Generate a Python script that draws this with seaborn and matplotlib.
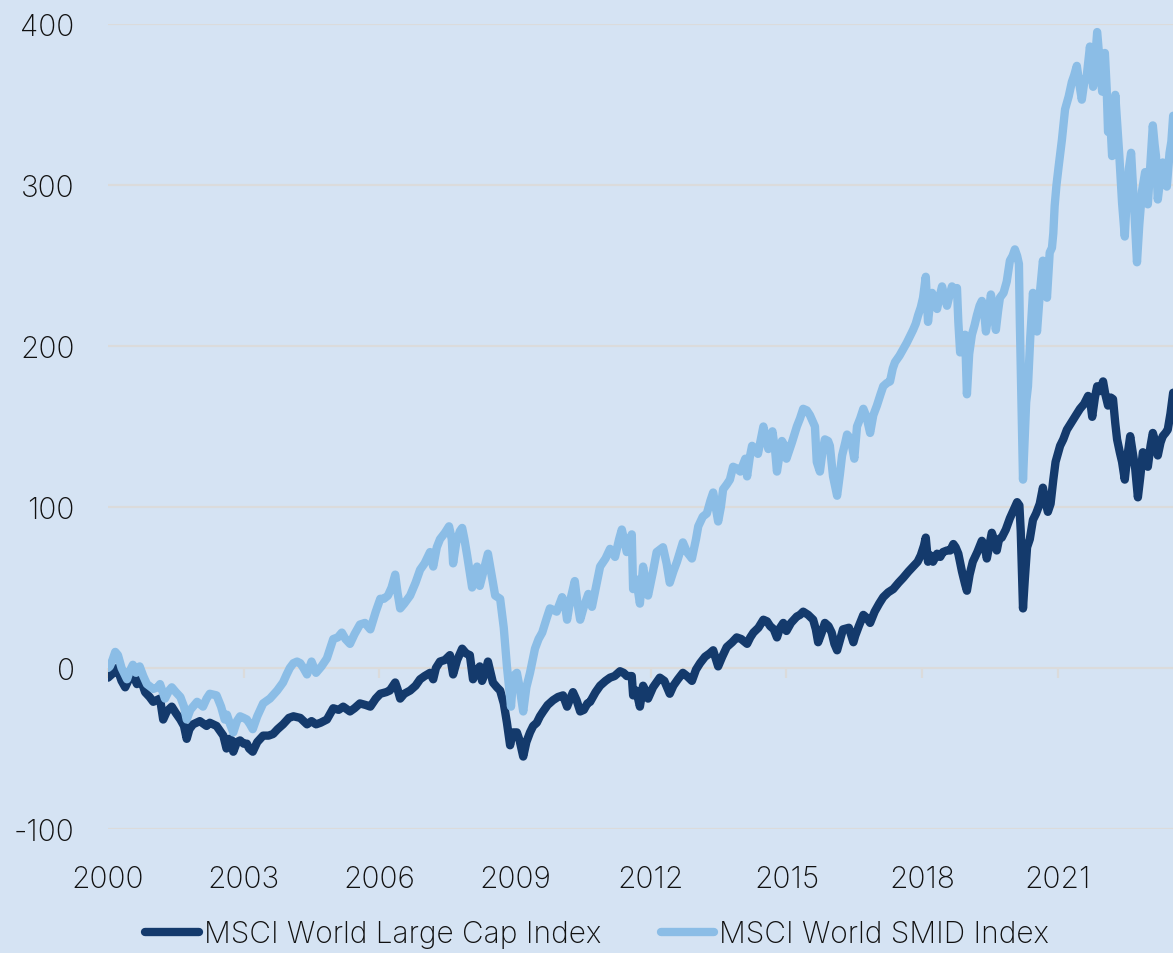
import matplotlib
matplotlib.use("Agg")
import matplotlib.pyplot as plt
import seaborn as sns
import pandas as pd

# ---------------- data ----------------
large_dates = [
    2000.00, 2000.04, 2000.12, 2000.20, 2000.30, 2000.38, 2000.48, 2000.55, 2000.64, 2000.70,
    2000.82, 2000.92, 2001.00, 2001.15, 2001.22, 2001.30, 2001.41, 2001.50, 2001.60, 2001.68,
    2001.74, 2001.80, 2001.88, 2002.03, 2002.18, 2002.25, 2002.40, 2002.50, 2002.55, 2002.62,
    2002.68, 2002.74, 2002.77, 2002.85, 2002.92, 2003.00, 2003.07, 2003.12, 2003.20, 2003.30,
    2003.43, 2003.55, 2003.65, 2003.75, 2003.87, 2004.00, 2004.10, 2004.25, 2004.40, 2004.50,
    2004.60, 2004.70, 2004.84, 2004.98, 2005.10, 2005.20, 2005.35, 2005.45, 2005.57, 2005.70,
    2005.80, 2005.92, 2006.02, 2006.15, 2006.23, 2006.35, 2006.40, 2006.46, 2006.55, 2006.68,
    2006.80, 2006.90, 2007.00, 2007.12, 2007.19, 2007.25, 2007.34, 2007.45, 2007.56, 2007.63,
    2007.72, 2007.83, 2007.92, 2008.00, 2008.07, 2008.15, 2008.22, 2008.27, 2008.35, 2008.40,
    2008.51, 2008.60, 2008.67, 2008.75, 2008.82, 2008.89, 2008.95, 2009.04, 2009.10, 2009.18,
    2009.25, 2009.33, 2009.40, 2009.48, 2009.55, 2009.62, 2009.72, 2009.84, 2009.95, 2010.06,
    2010.15, 2010.22, 2010.28, 2010.36, 2010.44, 2010.52, 2010.60, 2010.66, 2010.78, 2010.88,
    2011.00, 2011.10, 2011.20, 2011.32, 2011.40, 2011.47, 2011.58, 2011.61, 2011.68, 2011.76,
    2011.83, 2011.90, 2011.94, 2012.05, 2012.20, 2012.30, 2012.42, 2012.50, 2012.60, 2012.71,
    2012.80, 2012.91, 2013.00, 2013.09, 2013.20, 2013.30, 2013.38, 2013.49, 2013.58, 2013.68,
    2013.80, 2013.90, 2014.00, 2014.13, 2014.20, 2014.27, 2014.38, 2014.49, 2014.57, 2014.64,
    2014.72, 2014.79, 2014.86, 2014.93, 2015.00, 2015.10, 2015.23, 2015.30, 2015.37, 2015.48,
    2015.59, 2015.65, 2015.70, 2015.78, 2015.85, 2015.93, 2016.00, 2016.06, 2016.12, 2016.18,
    2016.25, 2016.38, 2016.48, 2016.52, 2016.60, 2016.70, 2016.78, 2016.85, 2016.95, 2017.05,
    2017.14, 2017.25, 2017.36, 2017.48, 2017.58, 2017.70, 2017.80, 2017.90, 2017.97, 2018.04,
    2018.08, 2018.13, 2018.18, 2018.24, 2018.33, 2018.40, 2018.46, 2018.55, 2018.62, 2018.69,
    2018.74, 2018.80, 2018.85, 2018.88, 2018.95, 2018.99, 2019.05, 2019.12, 2019.22, 2019.32,
    2019.38, 2019.43, 2019.50, 2019.54, 2019.60, 2019.65, 2019.70, 2019.76, 2019.85, 2019.94,
    2020.02, 2020.10, 2020.15, 2020.18, 2020.21, 2020.23, 2020.27, 2020.32, 2020.38, 2020.45,
    2020.52, 2020.60, 2020.67, 2020.72, 2020.78, 2020.84, 2020.90, 2020.95, 2021.05, 2021.12,
    2021.20, 2021.31, 2021.40, 2021.49, 2021.58, 2021.67, 2021.72, 2021.76, 2021.82, 2021.87,
    2021.94, 2022.00, 2022.05, 2022.11, 2022.17, 2022.22, 2022.27, 2022.31, 2022.37, 2022.42,
    2022.48, 2022.53, 2022.60, 2022.65, 2022.71, 2022.77, 2022.82, 2022.88, 2022.94, 2022.99,
    2023.05, 2023.10, 2023.16, 2023.21, 2023.27, 2023.32, 2023.38, 2023.43, 2023.49, 2023.55,
]
large_values = [
    -6, -5, -3, 0, -8, -12, -6, -4, -10, -5,
    -15, -18, -21, -19, -32, -27, -24, -28, -32, -36,
    -44, -38, -35, -33, -36, -34, -36, -40, -42, -50,
    -44, -45, -52, -46, -45, -47, -47, -50, -52, -46,
    -42, -42, -41, -38, -35, -31, -30, -31, -35, -33,
    -35, -34, -32, -25, -26, -24, -27, -25, -22, -23,
    -24, -19, -16, -15, -14, -9, -13, -19, -16, -14,
    -11, -7, -5, -3, -7, 0, 4, 5, 8, -4,
    5, 12, 9, 8, -7, -2, 1, -8, -2, 4,
    -9, -12, -14, -22, -34, -48, -40, -40, -45, -55,
    -46, -40, -36, -34, -30, -27, -23, -20, -18, -17,
    -24, -19, -15, -20, -27, -26, -22, -21, -15, -11,
    -8, -6, -5, -2, -3, -5, -5, -17, -14, -24,
    -11, -15, -19, -12, -6, -8, -16, -11, -7, -3,
    -5, -8, -1, 3, 7, 9, 11, 1, 7, 13,
    16, 19, 18, 15, 19, 22, 25, 30, 29, 26,
    24, 19, 25, 28, 23, 28, 32, 33, 35, 33,
    30, 24, 16, 22, 28, 26, 22, 15, 11, 17,
    24, 25, 16, 20, 26, 33, 31, 28, 35, 40,
    44, 47, 49, 53, 56, 60, 63, 66, 70, 76,
    81, 66, 70, 66, 71, 69, 72, 73, 73, 77,
    75, 71, 64, 60, 52, 48, 58, 66, 72, 79,
    76, 68, 78, 84, 79, 73, 80, 81, 86, 93,
    98, 103, 101, 85, 55, 37, 55, 75, 80, 92,
    96, 102, 112, 104, 97, 102, 117, 128, 138, 142,
    148, 153, 157, 161, 164, 169, 165, 156, 168, 175,
    172, 178, 170, 163, 168, 167, 152, 142, 134, 128,
    117, 130, 144, 135, 124, 106, 118, 134, 131, 125,
    138, 146, 140, 132, 140, 144, 146, 148, 158, 171,
]

smid_dates = [
    2000.00, 2000.04, 2000.10, 2000.16, 2000.22, 2000.30, 2000.42, 2000.48, 2000.55, 2000.62,
    2000.70, 2000.78, 2000.86, 2001.00, 2001.10, 2001.15, 2001.26, 2001.35, 2001.41, 2001.50,
    2001.60, 2001.68, 2001.74, 2001.82, 2001.97, 2002.10, 2002.18, 2002.25, 2002.40, 2002.50,
    2002.58, 2002.63, 2002.70, 2002.77, 2002.85, 2002.92, 2003.00, 2003.07, 2003.14, 2003.20,
    2003.30, 2003.43, 2003.58, 2003.74, 2003.87, 2003.95, 2004.02, 2004.10, 2004.18, 2004.25,
    2004.32, 2004.40, 2004.50, 2004.60, 2004.72, 2004.84, 2004.98, 2005.08, 2005.17, 2005.25,
    2005.35, 2005.45, 2005.57, 2005.68, 2005.80, 2005.92, 2006.02, 2006.10, 2006.19, 2006.27,
    2006.35, 2006.40, 2006.46, 2006.55, 2006.68, 2006.80, 2006.90, 2007.00, 2007.12, 2007.19,
    2007.27, 2007.34, 2007.45, 2007.54, 2007.60, 2007.63, 2007.70, 2007.78, 2007.83, 2007.88,
    2007.94, 2008.05, 2008.10, 2008.16, 2008.22, 2008.30, 2008.40, 2008.48, 2008.56, 2008.67,
    2008.75, 2008.82, 2008.91, 2008.96, 2009.04, 2009.10, 2009.18, 2009.25, 2009.33, 2009.44,
    2009.52, 2009.60, 2009.70, 2009.77, 2009.85, 2009.92, 2010.04, 2010.10, 2010.15, 2010.22,
    2010.32, 2010.38, 2010.44, 2010.52, 2010.62, 2010.70, 2010.80, 2010.88, 2011.00, 2011.10,
    2011.21, 2011.30, 2011.36, 2011.47, 2011.58, 2011.61, 2011.68, 2011.76, 2011.83, 2011.90,
    2011.94, 2012.05, 2012.13, 2012.27, 2012.35, 2012.42, 2012.50, 2012.58, 2012.71, 2012.80,
    2012.91, 2013.00, 2013.05, 2013.15, 2013.24, 2013.32, 2013.38, 2013.49, 2013.55, 2013.60,
    2013.68, 2013.75, 2013.82, 2013.90, 2013.98, 2014.09, 2014.13, 2014.19, 2014.24, 2014.30,
    2014.37, 2014.44, 2014.49, 2014.55, 2014.60, 2014.69, 2014.75, 2014.79, 2014.85, 2014.90,
    2014.96, 2015.00, 2015.06, 2015.12, 2015.23, 2015.30, 2015.37, 2015.45, 2015.52, 2015.60,
    2015.63, 2015.67, 2015.74, 2015.80, 2015.85, 2015.92, 2015.96, 2016.03, 2016.12, 2016.18,
    2016.23, 2016.30, 2016.34, 2016.40, 2016.45, 2016.50, 2016.56, 2016.63, 2016.70, 2016.77,
    2016.85, 2016.92, 2017.00, 2017.08, 2017.14, 2017.22, 2017.29, 2017.35, 2017.40, 2017.50,
    2017.58, 2017.66, 2017.73, 2017.80, 2017.86, 2017.91, 2017.97, 2018.02, 2018.08, 2018.13,
    2018.18, 2018.22, 2018.28, 2018.33, 2018.38, 2018.44, 2018.50, 2018.55, 2018.61, 2018.66,
    2018.72, 2018.77, 2018.80, 2018.84, 2018.90, 2018.95, 2018.99, 2019.04, 2019.10, 2019.16,
    2019.21, 2019.27, 2019.32, 2019.37, 2019.41, 2019.47, 2019.52, 2019.58, 2019.63, 2019.68,
    2019.72, 2019.80, 2019.87, 2019.94, 2020.00, 2020.05, 2020.10, 2020.14, 2020.16, 2020.20,
    2020.23, 2020.27, 2020.30, 2020.34, 2020.39, 2020.45, 2020.50, 2020.54, 2020.60, 2020.67,
    2020.71, 2020.76, 2020.82, 2020.87, 2020.90, 2020.93, 2020.97, 2021.02, 2021.09, 2021.16,
    2021.24, 2021.31, 2021.36, 2021.42, 2021.48, 2021.53, 2021.58, 2021.64, 2021.71, 2021.75,
    2021.78, 2021.83, 2021.87, 2021.93, 2021.98, 2022.04, 2022.08, 2022.11, 2022.16, 2022.20,
    2022.27, 2022.32, 2022.36, 2022.42, 2022.48, 2022.52, 2022.57, 2022.62, 2022.66, 2022.69,
    2022.75, 2022.80, 2022.86, 2022.93, 2022.99, 2023.05, 2023.10, 2023.14, 2023.17, 2023.21,
    2023.27, 2023.32, 2023.37, 2023.41, 2023.47, 2023.51, 2023.55,
]
smid_values = [
    0, 1, 5, 10, 8, 0, -7, -2, 2, -3,
    1, -5, -10, -13, -12, -10, -19, -14, -12, -15,
    -18, -24, -32, -26, -21, -24, -19, -16, -17, -24,
    -32, -29, -35, -40, -33, -30, -31, -32, -35, -38,
    -30, -22, -19, -14, -9, -4, 0, 3, 4, 3,
    0, -4, 4, -3, 1, 6, 18, 19, 22, 18,
    15, 21, 27, 28, 24, 35, 43, 43, 45, 50,
    58, 47, 37, 40, 45, 53, 61, 65, 72, 63,
    75, 80, 84, 88, 80, 65, 78, 85, 87, 80,
    70, 50, 58, 63, 51, 60, 71, 58, 45, 43,
    25, 1, -24, -5, -3, -12, -27, -12, -3, 12,
    18, 22, 31, 37, 36, 35, 44, 40, 30, 42,
    54, 40, 30, 38, 46, 38, 52, 63, 68, 74,
    69, 80, 86, 72, 83, 49, 55, 40, 63, 52,
    45, 60, 72, 75, 65, 53, 60, 66, 78, 72,
    68, 80, 88, 94, 96, 104, 109, 91, 100, 111,
    114, 117, 125, 124, 122, 130, 119, 131, 138, 136,
    133, 143, 150, 142, 136, 147, 135, 122, 133, 141,
    138, 130, 135, 140, 150, 155, 161, 160, 157, 152,
    150, 128, 122, 135, 142, 141, 138, 119, 107, 120,
    132, 140, 145, 143, 138, 130, 150, 155, 161, 156,
    146, 157, 163, 170, 175, 177, 178, 186, 190, 194,
    198, 202, 206, 210, 214, 219, 224, 230, 243, 215,
    228, 233, 227, 223, 230, 237, 230, 225, 232, 237,
    235, 236, 215, 196, 204, 207, 170, 195, 207, 213,
    219, 225, 228, 222, 209, 220, 232, 222, 210, 222,
    230, 233, 240, 253, 256, 260, 256, 251, 215, 160,
    117, 145, 165, 175, 205, 233, 220, 209, 232, 253,
    245, 230, 258, 261, 270, 287, 300, 312, 328, 347,
    355, 364, 368, 374, 362, 353, 363, 368, 386, 370,
    361, 380, 395, 375, 358, 382, 360, 333, 340, 318,
    356, 335, 318, 289, 268, 290, 310, 320, 300, 285,
    252, 275, 296, 308, 288, 315, 337, 325, 318, 291,
    305, 314, 305, 299, 320, 327, 343,
]

series_names = ["MSCI World Large Cap Index", "MSCI World SMID Index"]
year_ticks = [2000, 2003, 2006, 2009, 2012, 2015, 2018, 2021]
value_ticks = [-100, 0, 100, 200, 300, 400]

# ---------------- style ----------------
BG = "#d5e3f3"
GRID = "#dbdbdb"
DARK = "#143a6c"
LIGHT = "#8bbde6"
TEXT = "#111111"
FS = 21.5

sns.set_style("white")
plt.rcParams["font.family"] = ["Inter", "Lato", "DejaVu Sans"]
plt.rcParams["font.weight"] = "light"
plt.rcParams["axes.unicode_minus"] = False
plt.rcParams["text.color"] = TEXT

fig = plt.figure(figsize=(11.73, 9.54), dpi=100, facecolor=BG)
ax = fig.add_axes([108 / 1173, 1 - 830 / 954, 1 - 108 / 1173, (830 - 25) / 954])
ax.set_facecolor(BG)

df = pd.concat([
    pd.DataFrame({"year": large_dates, "value": large_values, "series": series_names[0]}),
    pd.DataFrame({"year": smid_dates, "value": smid_values, "series": series_names[1]}),
], ignore_index=True)

LW = 6.0
sns.lineplot(data=df, x="year", y="value", hue="series", hue_order=series_names,
             palette=[DARK, LIGHT], estimator=None, sort=False, linewidth=LW,
             ax=ax, legend=True)
for ln in ax.get_lines():
    ln.set_solid_capstyle("round")
    ln.set_solid_joinstyle("round")

ax.set_xlim(2000, 2000 + (1173 - 108) / 45.23)
ax.set_ylim(-100, 400)
for s in ax.spines.values():
    s.set_visible(False)

ax.set_yticks(value_ticks)
ax.yaxis.grid(True, color=GRID, linewidth=1.6)
ax.xaxis.grid(False)
ax.set_axisbelow(True)
ax.tick_params(axis="y", length=0, pad=24, labelsize=FS, labelcolor=TEXT)

ax.set_xticks(year_ticks)
ax.tick_params(axis="x", length=0, pad=26, labelsize=FS, labelcolor=TEXT)
ax.set_xlabel("")
ax.set_ylabel("")

# tick marks on the zero line (category axis crossing at 0)
sec = ax.secondary_xaxis(0.2)
sec.set_xticks(year_ticks)
sec.tick_params(axis="x", length=7, width=1.6, color=GRID, direction="out", labelbottom=False)
sec.spines["bottom"].set_visible(False)

handles, labels = ax.get_legend_handles_labels()
ax.legend_.remove()
leg = fig.legend(handles, labels, loc="center", bbox_to_anchor=(597 / 1173, 1 - 935 / 954),
                 ncol=2, frameon=False, fontsize=FS, handlelength=1.8, handletextpad=0.15,
                 columnspacing=2.0, labelcolor=TEXT)
for h in leg.get_lines():
    h.set_linewidth(LW)
    h.set_solid_capstyle("round")

fig.savefig("out.png", dpi=100, facecolor=BG)
